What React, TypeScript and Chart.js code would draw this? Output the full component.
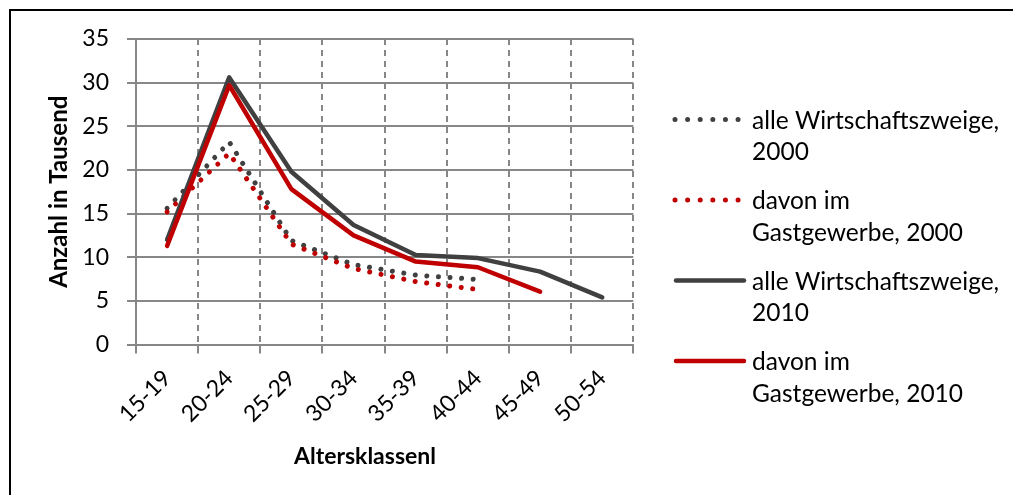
import React, { useEffect, useRef } from "react";
import { Chart, registerables } from "chart.js";

Chart.register(...registerables);

const categories = ["15-19", "20-24", "25-29", "30-34", "35-39", "40-44", "45-49", "50-54"];
const alle2000 = [15.6, 23.2, 11.9, 9.15, 7.95, 7.45, null, null];
const gast2000 = [15.2, 21.9, 11.5, 8.7, 7.2, 6.3, null, null];
const alle2010 = [12.0, 30.6, 19.8, 13.7, 10.25, 9.9, 8.35, 5.4];
const gast2010 = [11.3, 29.7, 17.8, 12.5, 9.5, 8.85, 6.05, null];
const seriesNames = [
  "alle Wirtschaftszweige, 2000",
  "davon im Gastgewerbe, 2000",
  "alle Wirtschaftszweige, 2010",
  "davon im Gastgewerbe, 2010",
];
const legendLines = [
  ["alle Wirtschaftszweige,", "2000"],
  ["davon im", "Gastgewerbe, 2000"],
  ["alle Wirtschaftszweige,", "2010"],
  ["davon im", "Gastgewerbe, 2010"],
];
const yTitle = "Anzahl in Tausend";
const xTitle = "Altersklassenl";

const DARK = "#404040";
const RED = "#C00000";
const GRID = "#878787";
const FONT = "Lato, 'Open Sans', sans-serif";
const DOT_DASH = [0.01, 11.6];

const customPlugin = {
  id: "customLegendTitle",
  afterDraw(chart: any) {
    const ctx = chart.ctx;
    ctx.save();
    // x axis title
    ctx.fillStyle = "#000";
    ctx.font = `bold 23px ${FONT}`;
    ctx.textAlign = "center";
    ctx.textBaseline = "alphabetic";
    ctx.fillText(xTitle, 365, 464);
    // legend
    const datasets = chart.data.datasets;
    for (let i = 0; i < datasets.length; i++) {
      const ds = datasets[i];
      const sy = 119.5 + i * 80.5;
      ctx.beginPath();
      ctx.strokeStyle = ds.borderColor;
      ctx.lineWidth = ds.borderWidth;
      ctx.lineCap = "round";
      const dotted = ds.borderDash && ds.borderDash.length > 0;
      if (dotted) {
        ctx.setLineDash([0.01, 12.6]);
        ctx.moveTo(675, sy);
        ctx.lineTo(739, sy);
      } else {
        ctx.setLineDash([]);
        ctx.moveTo(676, sy);
        ctx.lineTo(744, sy);
      }
      ctx.stroke();
      ctx.setLineDash([]);
      ctx.fillStyle = "#000";
      ctx.font = `24.5px ${FONT}`;
      ctx.textAlign = "left";
      const lines = legendLines[i];
      for (let j = 0; j < lines.length; j++) {
        ctx.fillText(lines[j], 752, sy + 9 + j * 31.7);
      }
    }
    ctx.restore();
  },
};

export default function App() {
  const canvasRef = useRef<HTMLCanvasElement | null>(null);

  useEffect(() => {
    document.body.style.margin = "0";
    const canvas = canvasRef.current;
    if (!canvas) return;
    const mk = (label: string, data: any[], color: string, dotted: boolean, order: number) => ({
      label,
      data,
      borderColor: color,
      backgroundColor: color,
      borderWidth: dotted ? 5 : 4.5,
      borderDash: dotted ? DOT_DASH : [],
      borderCapStyle: "round" as const,
      borderJoinStyle: "round" as const,
      pointRadius: 0,
      pointHoverRadius: 0,
      tension: 0,
      fill: false,
      order,
    });
    const chart = new Chart(canvas, {
      type: "line",
      data: {
        labels: categories,
        datasets: [
          mk(seriesNames[0], alle2000, DARK, true, 3),
          mk(seriesNames[1], gast2000, RED, true, 2),
          mk(seriesNames[2], alle2010, DARK, false, 1),
          mk(seriesNames[3], gast2010, RED, false, 0),
        ],
      },
      options: {
        animation: false,
        responsive: true,
        maintainAspectRatio: false,
        devicePixelRatio: 1,
        layout: { padding: { left: 0, top: 39, right: 379.7, bottom: 0 } },
        plugins: {
          legend: { display: false },
          tooltip: { enabled: false },
        },
        scales: {
          x: {
            offset: true,
            afterFit: (scale: any) => {
              scale.height = 150.5;
            },
            grid: {
              offset: true,
              color: GRID,
              lineWidth: 2,
              drawTicks: true,
              tickLength: 9,
              tickColor: GRID,
              tickWidth: 2,
            },
            border: { display: true, color: GRID, width: 2, dash: [6, 5] },
            ticks: {
              minRotation: 45,
              maxRotation: 45,
              autoSkip: false,
              padding: 11,
              color: "#000",
              font: { family: FONT, size: 23 },
            },
          },
          y: {
            min: 0,
            max: 35,
            afterFit: (scale: any) => {
              scale.width = 136;
            },
            grid: {
              color: GRID,
              lineWidth: 2,
              drawTicks: true,
              tickLength: 9,
              tickColor: GRID,
              tickWidth: 2,
            },
            border: { display: true, color: GRID, width: 2 },
            ticks: {
              stepSize: 5,
              padding: 18,
              color: "#000",
              font: { family: FONT, size: 23 },
            },
            title: {
              display: true,
              text: yTitle,
              color: "#000",
              padding: { top: 45, bottom: 0 },
              font: { family: FONT, size: 24, weight: "bold" },
            },
          },
        },
      },
      plugins: [customPlugin],
    });
    return () => chart.destroy();
  }, []);

  return (
    <div style={{ position: "relative", width: 1013, height: 495, overflow: "hidden", background: "#fff" }}>
      <div
        style={{
          position: "absolute",
          left: 9,
          top: 9,
          width: 1020,
          height: 510,
          border: "2px solid #000",
          pointerEvents: "none",
        }}
      />
      <div style={{ position: "absolute", left: 0, top: 0, width: 1013, height: 495 }}>
        <canvas ref={canvasRef} />
      </div>
    </div>
  );
}
